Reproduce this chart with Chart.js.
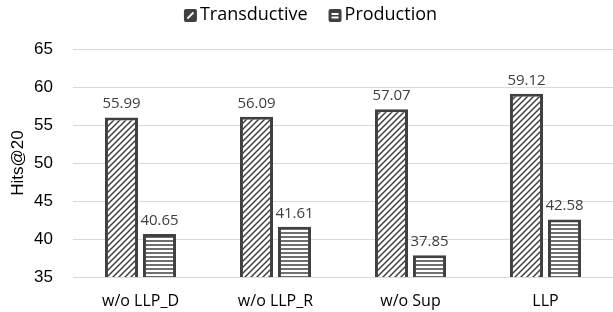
<!DOCTYPE html>
<html>
<head>
<meta charset="utf-8">
<script src="https://cdn.jsdelivr.net/npm/chart.js@4.4.1/dist/chart.umd.min.js"></script>
<style>
  html, body { margin: 0; padding: 0; background: #fff; }
</style>
</head>
<body>
<canvas id="c" width="613" height="312"></canvas>
<script>
// データ
const categories = ['w/o LLP_D', 'w/o LLP_R', 'w/o Sup', 'LLP'];
const seriesNames = ['Transductive', 'Production'];
const transductive = [55.99, 56.09, 57.07, 59.12];
const production = [40.65, 41.61, 37.85, 42.58];
const yTicks = [35, 40, 45, 50, 55, 60, 65];

const dark = '#404040';
const textFont = '"Open Sans", sans-serif';
const numFont = '"Liberation Sans", Arial, sans-serif';

// ハッチングパターン作成
function makePattern(kind) {
    const size = kind === 'diag' ? 6 : 4;
    const c = document.createElement('canvas');
    c.width = size; c.height = size;
    const g = c.getContext('2d');
    g.fillStyle = '#fff';
    g.fillRect(0, 0, size, size);
    g.strokeStyle = dark;
    g.lineWidth = 1.5;
    g.beginPath();
    if (kind === 'diag') {
        g.moveTo(-1, size + 1); g.lineTo(size + 1, -1);
        g.moveTo(-1, 1); g.lineTo(1, -1);
        g.moveTo(size - 1, size + 1); g.lineTo(size + 1, size - 1);
    } else {
        g.moveTo(0, 1); g.lineTo(size, 1);
    }
    g.stroke();
    return g.createPattern(c, 'repeat');
}

// 凡例アイコン
function drawIcon(ctx, kind, x, y) {
    const s = 13;
    ctx.fillStyle = dark;
    ctx.beginPath();
    ctx.roundRect(x, y, s, s, 2);
    ctx.fill();
    ctx.strokeStyle = '#fff';
    ctx.lineWidth = 1.8;
    ctx.beginPath();
    if (kind === 'diag') {
        ctx.moveTo(x + 3.5, y + 9.5); ctx.lineTo(x + 9.5, y + 3.5);
    } else {
        ctx.moveTo(x + 3, y + 5); ctx.lineTo(x + 10, y + 5);
        ctx.moveTo(x + 3, y + 8.5); ctx.lineTo(x + 10, y + 8.5);
    }
    ctx.stroke();
}

// 凡例（自前で描画）
const customLegend = {
    id: 'customLegend',
    afterDraw(chart) {
        const ctx = chart.ctx;
        ctx.save();
        ctx.font = '18px ' + textFont;
        ctx.textBaseline = 'middle';
        ctx.textAlign = 'left';
        const kinds = ['diag', 'horiz'];
        const widths = seriesNames.map(n => ctx.measureText(n).width);
        const total = 16 + widths[0] + 21 + 16 + widths[1];
        let x = chart.width / 2 + 4 - total / 2;
        const cy = 15;
        seriesNames.forEach((name, i) => {
            drawIcon(ctx, kinds[i], x, cy - 6);
            x += 16;
            ctx.fillStyle = '#000';
            ctx.fillText(name, x, cy);
            x += widths[i] + 21;
        });
        ctx.restore();
    }
};

// 値ラベル描画
const valueLabels = {
    id: 'valueLabels',
    afterDatasetsDraw(chart) {
        const ctx = chart.ctx;
        ctx.save();
        ctx.font = '15px ' + textFont;
        ctx.fillStyle = dark;
        ctx.textAlign = 'center';
        ctx.textBaseline = 'alphabetic';
        chart.data.datasets.forEach((ds, i) => {
            chart.getDatasetMeta(i).data.forEach((bar, j) => {
                ctx.fillText(ds.data[j].toFixed(2), bar.x, bar.y - 9);
            });
        });
        ctx.restore();
    }
};

new Chart(document.getElementById('c'), {
    type: 'bar',
    data: {
        labels: categories,
        datasets: [
            {
                label: seriesNames[0],
                data: transductive,
                backgroundColor: makePattern('diag'),
                borderColor: dark,
                borderWidth: 3
            },
            {
                label: seriesNames[1],
                data: production,
                backgroundColor: makePattern('horiz'),
                borderColor: dark,
                borderWidth: 3
            }
        ]
    },
    options: {
        responsive: false,
        animation: false,
        devicePixelRatio: 1,
        categoryPercentage: 0.563,
        barPercentage: 0.87,
        layout: { padding: { top: 49, right: 0, bottom: 0, left: 0 } },
        plugins: {
            legend: { display: false },
            tooltip: { enabled: false }
        },
        scales: {
            x: {
                grid: { display: false, drawTicks: false },
                border: { display: false },
                ticks: {
                    font: { family: textFont, size: 16 },
                    color: '#000',
                    padding: 15
                },
                afterFit(scale) { scale.height = 35; }
            },
            y: {
                min: 35,
                max: 65,
                afterBuildTicks(scale) {
                    scale.ticks = yTicks.map(v => ({ value: v }));
                },
                grid: { color: '#d9d9d9', lineWidth: 1, drawTicks: false },
                border: { display: false },
                ticks: {
                    font: { family: numFont, size: 17 },
                    color: '#000',
                    padding: 20
                },
                title: {
                    display: true,
                    text: 'Hits@20',
                    font: { family: numFont, size: 17 },
                    color: '#000',
                    padding: { top: 8, bottom: 0 }
                },
                afterFit(scale) { scale.width = 73; }
            }
        }
    },
    plugins: [valueLabels, customLegend]
});
</script>
</body>
</html>
